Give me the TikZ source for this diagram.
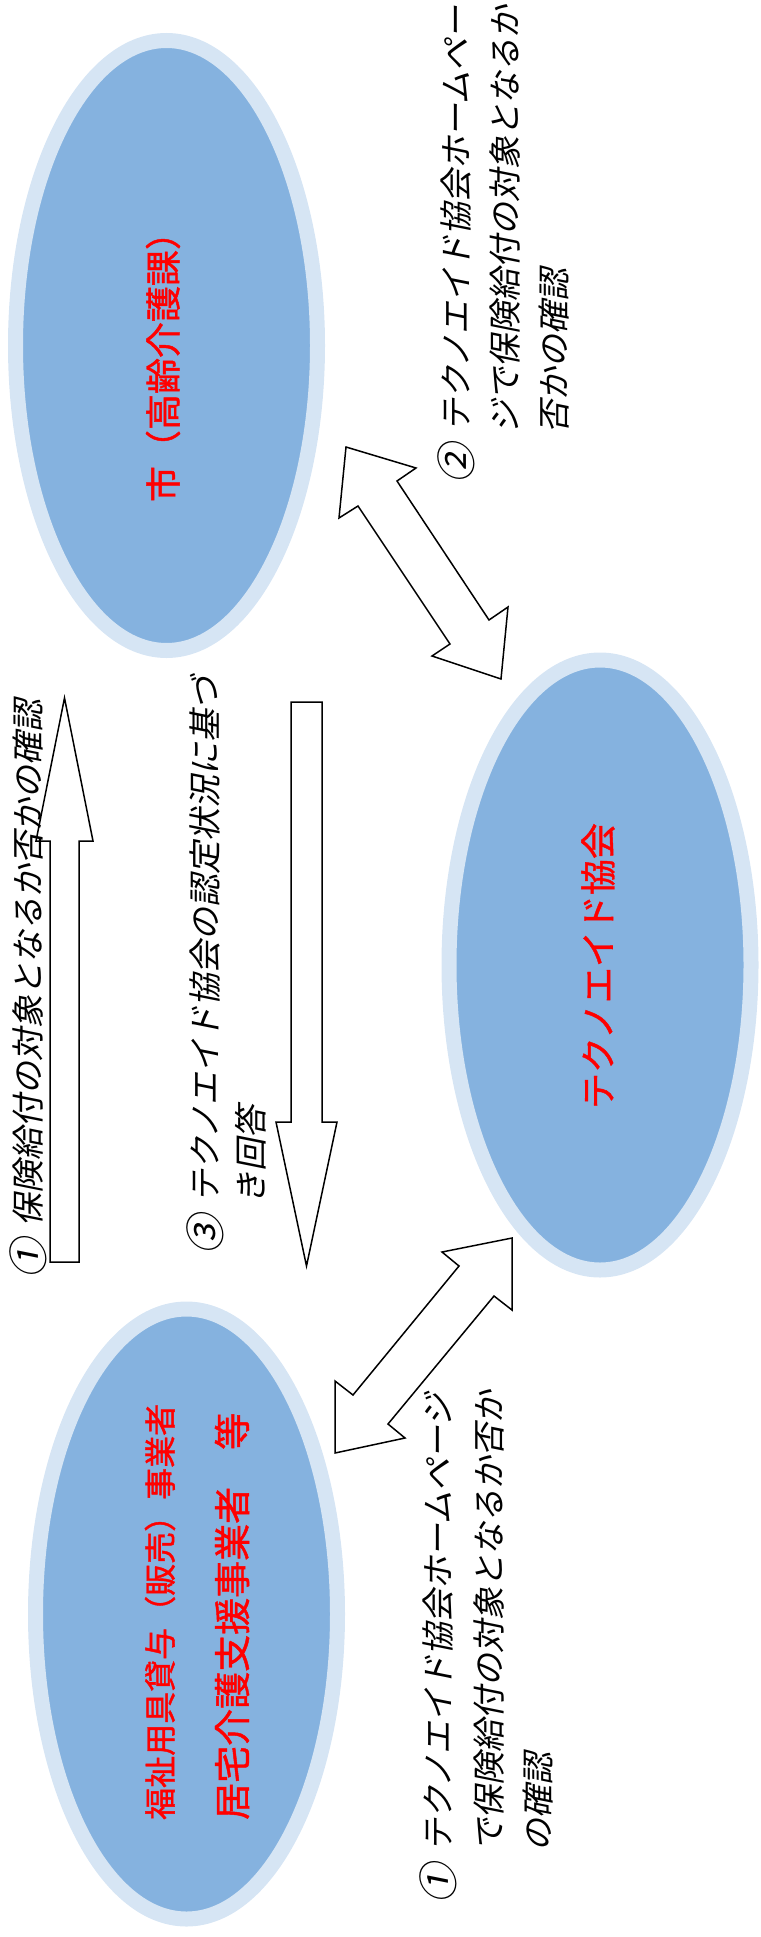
\documentclass[tikz,border=0pt]{standalone}
\usepackage{fontspec}
\usetikzlibrary{shapes.geometric}
\newfontfamily\jp[FakeBold=1.2]{Noto Sans CJK JP}
\newfontfamily\jpit[FakeSlant=0.2]{Noto Sans CJK JP}
\newcommand\circnum[1]{\makebox[52pt][l]{\raisebox{-3.5pt}{\fontsize{40}{40}\selectfont #1}}}
\definecolor{ringc}{RGB}{214,229,244}
\definecolor{fillc}{RGB}{133,178,223}
\tikzset{
  org/.style={ellipse, fill=fillc, draw=ringc, line width=15pt, minimum width=302pt, minimum height=610pt, inner sep=0pt},
  redtxt/.style={text=red, inner sep=0pt, rotate=90, font=\jp\fontsize{36}{40}\selectfont},
  blk/.style={inner sep=0pt, rotate=90, anchor=base west, font=\jpit\fontsize{33}{49}\selectfont},
  blockarrow/.style={draw=black, fill=white, line width=1.5pt, line join=miter},
}
\begin{document}
\begin{tikzpicture}[x=1pt,y=-1pt]
\useasboundingbox (0,0) rectangle (760,1937);
% organisations
\node[org] (city) at (166.5,345.5) {};
\node[org] (ta) at (600,965) {};
\node[org] (biz) at (186.5,1614) {};
% block arrows
\draw[blockarrow] (50,1262) -- (50,841) -- (36,841) -- (64.5,698) -- (93,841) -- (79,841) -- (79,1262) -- cycle;
\draw[blockarrow] (291,702) -- (322,702) -- (322,1122) -- (337,1122) -- (306.5,1266) -- (276,1122) -- (291,1122) -- cycle;
\draw[blockarrow] (346,447) -- (416,468) -- (397,481) -- (489,620) -- (508,607) -- (501,679) -- (432,656) -- (450,644) -- (358,506) -- (339,518) -- cycle;
\draw[blockarrow] (512,1238) -- (512,1310) -- (494,1296) -- (388,1424) -- (405,1438) -- (335,1453) -- (335,1381) -- (353,1395) -- (459,1266) -- (442,1252) -- cycle;
% red labels
\node[redtxt] (citytxt) at (163,358) {市（高齢介護課）};
\node[redtxt] (tatxt) at (598,966) {テクノエイド協会};
\node[redtxt, anchor=west, font=\jp\fontsize{32}{36}\selectfont] (biz1) at (160,1820) {福祉用具貸与（販売）事業者};
\node[redtxt, anchor=west, font=\jp\fontsize{37}{40}\selectfont] (biz2) at (232,1820) {居宅介護支援事業者　等};
% black labels
\node[blk] (q1) at (40,1279) {\circnum{①}保険給付の対象となるか否かの確認};
\node[blk] (a3a) at (217,1255) {\circnum{③}テクノエイド協会の認定状況に基づ};
\node[blk] (a3b) at (263,1205) {き回答};
\node[blk] (c2a) at (468,484) {\circnum{②}テクノエイド協会ホームペー};
\node[blk] (c2b) at (517,434) {ジで保険給付の対象となるか};
\node[blk] (c2c) at (566,434) {否かの確認};
\node[blk] (c1a) at (450,1904) {\circnum{①}テクノエイド協会ホームページ};
\node[blk] (c1b) at (501,1852) {で保険給付の対象となるか否か};
\node[blk] (c1c) at (550,1852) {の確認};
\end{tikzpicture}
\end{document}
